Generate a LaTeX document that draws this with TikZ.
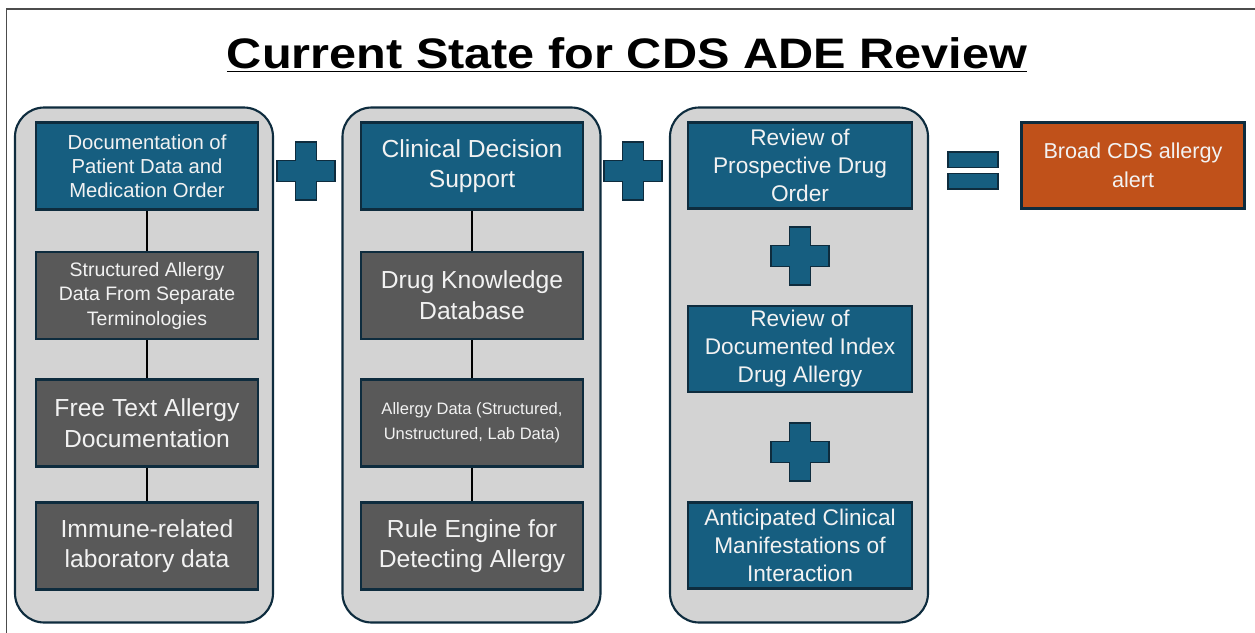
\documentclass[tikz,border=0pt]{standalone}
\usepackage{fontspec}
\setmainfont{Liberation Sans}
\begin{document}
\begin{tikzpicture}[x=0.75pt,y=-0.75pt,
  frameline/.style={draw=black!70,line width=1.2pt},
  column/.style={draw=navyline,fill=colfill,line width=1.6pt,rounded corners=22pt,
    minimum width=193.5pt,minimum height=386.25pt,inner sep=0pt},
  bluebox/.style={draw=navyline,fill=boxblue,line width=1.6pt,text=boxtext,align=center,
    minimum width=166.5pt,minimum height=65.25pt,inner sep=1pt},
  graybox/.style={bluebox,fill=boxgray},
  orangebox/.style={bluebox,fill=boxorange},
  link/.style={draw=black,line width=1pt},
  plusstyle/.style={draw=navyline,fill=boxblue,line width=1.3pt},
  plussign/.pic={\path[plusstyle] (-10.5,-29) -- (10.5,-29) -- (10.5,-10.5) -- (29,-10.5) -- (29,10.5) -- (10.5,10.5) -- (10.5,29) -- (-10.5,29) -- (-10.5,10.5) -- (-29,10.5) -- (-29,-10.5) -- (-10.5,-10.5) -- cycle;},
  fA/.style={font=\fontsize{15.2pt}{18pt}\selectfont},
  fB/.style={font=\fontsize{18.5pt}{23pt}\selectfont},
  fC/.style={font=\fontsize{12.4pt}{18.7pt}\selectfont},
  fD/.style={font=\fontsize{17pt}{21pt}\selectfont},
  fE/.style={font=\fontsize{16.2pt}{21.5pt}\selectfont},
  fS/.style={font=\fontsize{14.6pt}{18.4pt}\selectfont}
]
\definecolor{navyline}{HTML}{0E2C3E}
\definecolor{colfill}{HTML}{D3D3D3}
\definecolor{boxblue}{HTML}{165E80}
\definecolor{boxgray}{HTML}{595959}
\definecolor{boxorange}{HTML}{C0511A}
\definecolor{boxtext}{HTML}{F2F2F2}
\useasboundingbox (0,0) rectangle (1255,632);
\fill[white] (0,0) rectangle (1255,632);
\draw[frameline] (6.5,640) -- (6.5,9) -- (1260,9);

\node[font=\fontsize{32pt}{36pt}\selectfont\bfseries] (title) at (627,55) {\scalebox{1.14}[1]{\underline{Current State for CDS ADE Review}}};

\node[column] (c1) at (144,365) {};
\node[column] (c2) at (471.5,365) {};
\node[column] (c3) at (799,365) {};

% column 1
\node[bluebox,fA] (a1) at (147,166) {Documentation of\\Patient Data and\\Medication Order};
\node[graybox,fS] (a2) at (147,295.5) {Structured Allergy\\Data From Separate\\Terminologies};
\node[graybox,fB] (a3) at (147,423) {Free Text Allergy\\Documentation};
\node[graybox,fB] (a4) at (147,546) {Immune-related\\laboratory data};
\draw[link] (a1) -- (a2);
\draw[link] (a2) -- (a3);
\draw[link] (a3) -- (a4);

% column 2
\node[bluebox,fB] (b1) at (472,166) {Clinical Decision\\Support};
\node[graybox,fB] (b2) at (472,295.5) {Drug Knowledge\\Database};
\node[graybox,fC] (b3) at (472,423) {Allergy Data (Structured,\\Unstructured, Lab Data)};
\node[graybox,fB] (b4) at (472,546) {Rule Engine for\\Detecting Allergy};
\draw[link] (b1) -- (b2);
\draw[link] (b2) -- (b3);
\draw[link] (b3) -- (b4);

% column 3
\node[bluebox,fD,minimum width=168pt,minimum height=64.5pt] (d1) at (800,165.5) {Review of\\Prospective Drug\\Order};
\node[bluebox,fD,minimum width=168pt,minimum height=64.5pt] (d2) at (800,349) {Review of\\Documented Index\\Drug Allergy};
\node[bluebox,fD,minimum width=168pt,minimum height=64.5pt] (d3) at (800,545.5) {Anticipated Clinical\\Manifestations of\\Interaction};

% pluses
\pic at (306,171) {plussign};
\pic at (633,171) {plussign};
\pic at (800,256) {plussign};
\pic at (800,452) {plussign};

% equals
\path[plusstyle] (948,152) rectangle (998,167.5);
\path[plusstyle] (948,173.5) rectangle (998,189);

% result
\node[orangebox,fE,minimum width=167.25pt,minimum height=64.5pt] (res) at (1133,165.5) {Broad CDS allergy\\alert};
\end{tikzpicture}
\end{document}
